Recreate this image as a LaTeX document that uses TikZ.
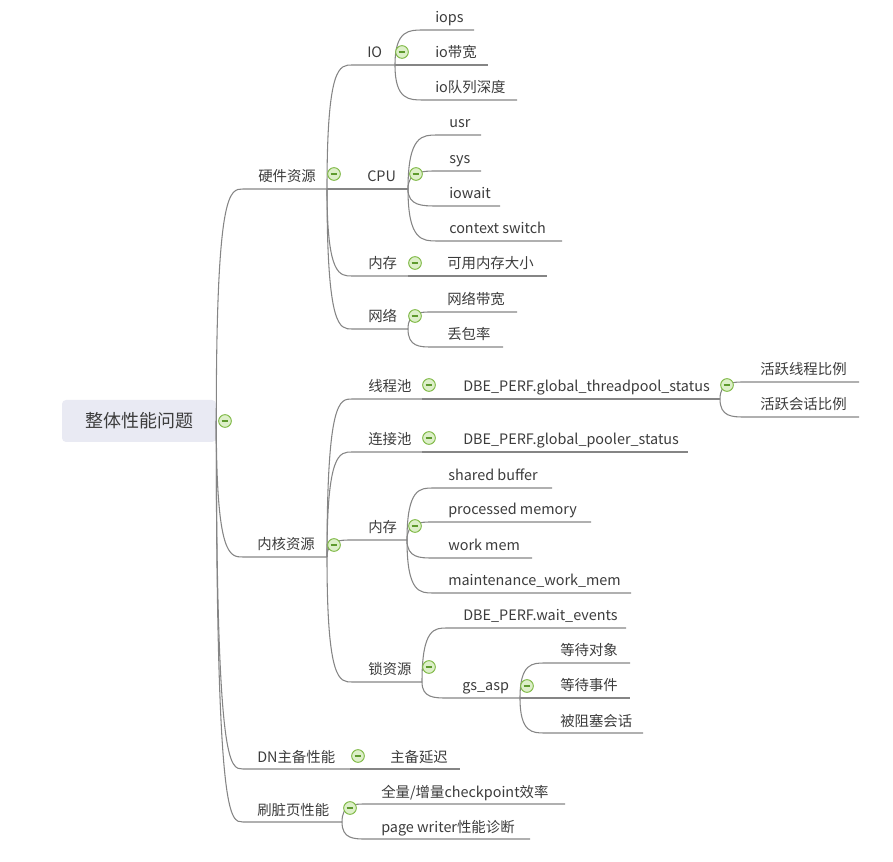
\documentclass[tikz,border=0pt]{standalone}
\usepackage{fontspec}
\setmainfont{Noto Sans CJK SC}
\usetikzlibrary{calc}
\definecolor{linegray}{HTML}{858585}
\definecolor{textgray}{HTML}{3C3C3C}
\definecolor{rootfill}{HTML}{E9EAF3}
\definecolor{foldline}{HTML}{7DB843}
\definecolor{foldfill}{HTML}{DDEFC9}
\definecolor{foldbar}{HTML}{5E9A2E}

\begin{document}
\begin{tikzpicture}[
  x=0.75pt, y=-0.75pt,
  font=\fontsize{10.8}{12}\selectfont,
  topic/.style={anchor=base west, inner sep=0pt, text=textgray},
  branch/.style={draw=linegray, line width=0.8pt},
  fold/.style={circle, draw=foldline, fill=foldfill, line width=0.7pt, minimum size=9.5pt, inner sep=0pt,
    path picture={\draw[foldbar, line width=0.9pt] ([xshift=2.2pt]path picture bounding box.west) -- ([xshift=-2.2pt]path picture bounding box.east);}},
  rootbox/.style={fill=rootfill, rounded corners=3pt, minimum width=115.5pt, minimum height=31.5pt,
    text=textgray, font=\fontsize{13.5}{16}\selectfont},
]
\useasboundingbox (0,0) rectangle (893,862);

% --- central topic ---
\node[rootbox] (root) at (139,421) {整体性能问题};
\coordinate (root-r) at (root.east);

% --- topics: name/parent/text x/line y/line start/line end/label ---
\foreach \n/\p/\tx/\y/\l/\r/\txt in {
  hw/root/258/189/243/327/硬件资源,
  io/hw/367/65/352/395/IO,
  iops/io/435/30/423/474/iops,
  iobw/io/435/65/395/488/io带宽,
  ioq/io/435/100/423/517/io队列深度,
  cpu/hw/367/189/327/408/CPU,
  usr/cpu/449/135/437/481/usr,
  sys/cpu/449/171/437/481/sys,
  iowait/cpu/449/206/437/500/iowait,
  ctx/cpu/449/241/437/562/context switch,
  mem/hw/368/276/352/408/内存,
  memfree/mem/447/276/408/547/可用内存大小,
  net/hw/368/329/352/408/网络,
  netbw/net/447/312/432/517/网络带宽,
  loss/net/447/347/432/503/丢包率,
  kern/root/257/557/243/327/内核资源,
  tpool/kern/368/399/352/422/线程池,
  tpstat/tpool/463/399/422/720/DBE\_PERF.global\_threadpool\_status,
  thr/tpstat/760/382/745/859/活跃线程比例,
  sess/tpstat/760/417/745/859/活跃会话比例,
  pool/kern/368/452/352/422/连接池,
  poolstat/pool/463/452/422/688/DBE\_PERF.global\_pooler\_status,
  kmem/kern/368/540/352/407/内存,
  sbuf/kmem/448/488/433/552/shared buffer,
  pmem/kmem/448/522/433/591/processed memory,
  wmem/kmem/448/558/433/532/work mem,
  mwmem/kmem/448/593/433/631/maintenance\_work\_mem,
  lock/kern/368/682/352/422/锁资源,
  wevt/lock/463/628/447/626/DBE\_PERF.wait\_events,
  asp/lock/462/698/447/520/gs\_asp,
  wobj/asp/560/663/545/630/等待对象,
  wev/asp/560/698/520/630/等待事件,
  blk/asp/560/733/545/643/被阻塞会话,
  dn/root/257/769/243/350/DN主备性能,
  delay/dn/390/769/350/460/主备延迟,
  flush/root/257/822/243/342/刷脏页性能,
  ckpt/flush/381/804/366/565/{全量/增量checkpoint效率},
  pw/flush/381/839/366/530/page writer性能诊断%
}{
  \coordinate (\n-l) at (\l,\y);
  \coordinate (\n-r) at (\r,\y);
  \node[topic] (\n) at (\tx,\y-7) {\txt};
  \draw[branch] (\p-r) .. controls (\p-r |- \n-l) and ($(\p-r |- \n-l)!0.5!(\n-l)$) .. (\n-l) -- (\n-r);
}

% --- collapse buttons ---
\foreach \n/\x/\y in {root/225/421, hw/334/174, io/402/52, cpu/416/174, mem/415/263,
  net/415/316, kern/334/545, tpool/429/385, tpstat/727/385, pool/429/438,
  kmem/415/526, lock/429/667, asp/527/686, dn/358/756, flush/350/808}
  \node[fold] (\n-fold) at (\x,\y) {};

\end{tikzpicture}
\end{document}
